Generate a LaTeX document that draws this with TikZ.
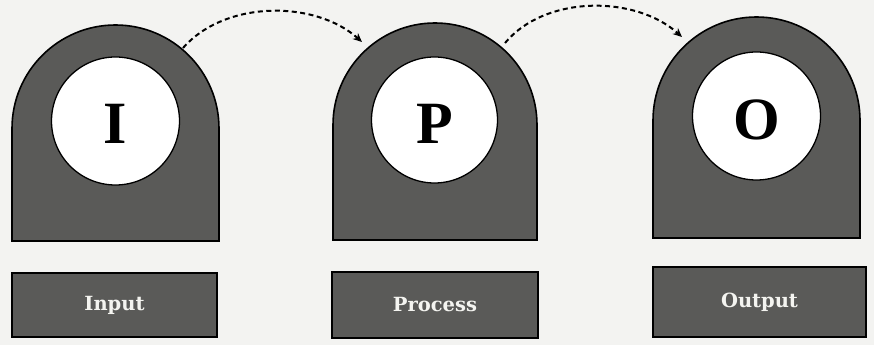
\documentclass[tikz,border=0pt]{standalone}
\usepackage{fontspec}
\setmainfont{Liberation Serif}
\newfontfamily\labelfont{DejaVu Serif}
\usetikzlibrary{arrows.meta}
\definecolor{bgc}{HTML}{F3F3F1}
\definecolor{darkfill}{HTML}{5A5A58}
\definecolor{labtext}{HTML}{F4F4F0}
\tikzset{
  archshape/.style={fill=darkfill, draw=black, line width=1.6pt},
  hole/.style={circle, fill=white, draw=black, line width=1.3pt, inner sep=0pt},
  bigletter/.style={font=\fontsize{60}{60}\selectfont\bfseries, text=black},
  labelbox/.style={rectangle, fill=darkfill, draw=black, line width=1.6pt, inner sep=0pt,
     text=labtext, font=\labelfont\fontsize{19.5}{19.5}\selectfont\bfseries},
  flow/.style={line width=2pt, dash pattern=on 5pt off 3.5pt, -{Stealth[length=9pt,width=8pt]}}
}
\begin{document}
\begin{tikzpicture}[x=1pt,y=1pt]
\useasboundingbox[fill=bgc] (0,0) rectangle (874,345);
% shape 1
\draw[archshape] (12,104) -- (12,216.5) arc[start angle=180,end angle=0,radius=103.5] -- (219,104) -- cycle;
\node[hole, minimum size=128pt] (h1) at (115.5,224) {};
\node[bigletter] (l1) at (115.5,221) {I};
\node[labelbox, minimum width=205pt, minimum height=64pt] (r1) at (114.5,40) {Input};
% shape 2
\draw[archshape] (333,105) -- (333,220) arc[start angle=180,end angle=0,radius=102] -- (537,105) -- cycle;
\node[hole, minimum size=126pt] (h2) at (434.5,225) {};
\node[bigletter] (l2) at (434.5,221) {P};
\node[labelbox, minimum width=206pt, minimum height=66pt] (r2) at (435,40) {Process};
% shape 3
\draw[archshape] (653,107) -- (653,224.5) arc[start angle=180,end angle=0,radius=103.5] -- (860,107) -- cycle;
\node[hole, minimum size=128pt] (h3) at (756.5,229) {};
\node[bigletter] (l3) at (756.5,225) {O};
\node[labelbox, minimum width=213pt, minimum height=70pt] (r3) at (759.5,43) {Output};
% connector end points on the arches
\coordinate (s1) at (183,297);
\coordinate (e1) at (362,303);
\coordinate (s2) at (505,302);
\coordinate (e2) at (682,308);
\draw[flow] (s1) .. controls (225,345) and (315,345) .. (e1);
\draw[flow] (s2) .. controls (545,350) and (635,350) .. (e2);
\end{tikzpicture}
\end{document}
